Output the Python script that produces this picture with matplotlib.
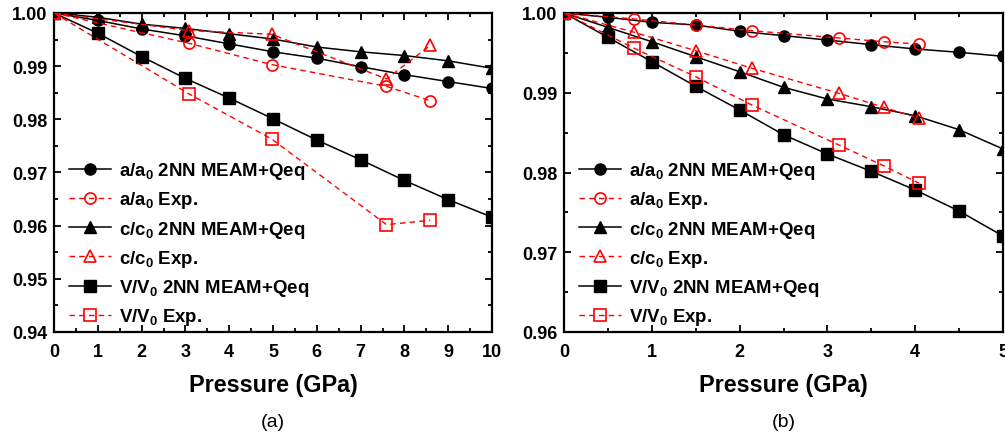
import matplotlib
matplotlib.use("Agg")
import matplotlib.pyplot as plt
from matplotlib.ticker import MultipleLocator, FormatStrFormatter

plt.rcParams['font.family'] = ['Liberation Sans', 'DejaVu Sans']
plt.rcParams['font.weight'] = 'bold'
plt.rcParams['mathtext.fontset'] = 'custom'
plt.rcParams['mathtext.rm'] = 'Liberation Sans:bold'
plt.rcParams['mathtext.default'] = 'rm'

# ---- panel (a) data ----
p_sim_a = [0, 1, 2, 3, 4, 5, 6, 7, 8, 9, 10]
a_sim_a = [1.0, 0.9986, 0.9970, 0.9957, 0.9942, 0.9927, 0.9915, 0.9899, 0.9884, 0.9871, 0.9858]
c_sim_a = [1.0, 0.9992, 0.9979, 0.9971, 0.9961, 0.9951, 0.9936, 0.9927, 0.9920, 0.9910, 0.9896]
v_sim_a = [1.0, 0.9962, 0.9918, 0.9877, 0.9840, 0.9801, 0.9761, 0.9724, 0.9685, 0.9649, 0.9616]

p_exp_a = [0, 3.08, 4.97, 7.59, 8.59]
a_exp_a = [1.0, 0.9943, 0.9903, 0.9862, 0.9835]
c_exp_a = [1.0, 0.9967, 0.9960, 0.9876, 0.9939]
v_exp_a = [1.0, 0.9848, 0.9763, 0.9602, 0.9610]

# ---- panel (b) data ----
p_sim_b = [0, 0.5, 1.0, 1.5, 2.0, 2.5, 3.0, 3.5, 4.0, 4.5, 5.0]
a_sim_b = [1.0, 0.99946, 0.99883, 0.9985, 0.9977, 0.99716, 0.99661, 0.99603, 0.99549, 0.99507, 0.99457]
c_sim_b = [1.0, 0.9982, 0.9964, 0.99452, 0.99264, 0.99068, 0.98922, 0.98825, 0.98712, 0.98537, 0.98295]
v_sim_b = [1.0, 0.99695, 0.9939, 0.99081, 0.98784, 0.98474, 0.98232, 0.98015, 0.97781, 0.97517, 0.97204]

p_exp_b = [0, 0.8, 1.5, 2.14, 3.13, 3.64, 4.04]
a_exp_b = [1.0, 0.99925, 0.9985, 0.99778, 0.99687, 0.9964, 0.99611]
c_exp_b = [1.0, 0.99758, 0.99527, 0.99307, 0.98993, 0.98818, 0.98683]
v_exp_b = [1.0, 0.99557, 0.99201, 0.98846, 0.98345, 0.98085, 0.97868]

labels = [
    "a/a$_0$ 2NN MEAM+Qeq", "a/a$_0$ Exp.",
    "c/c$_0$ 2NN MEAM+Qeq", "c/c$_0$ Exp.",
    "V/V$_0$ 2NN MEAM+Qeq", "V/V$_0$ Exp.",
]
markers = ['o', '^', 's']

fig = plt.figure(figsize=(10.05, 4.35), dpi=100)
ax1 = fig.add_axes([54 / 1005, 1 - 333 / 435, 438 / 1005, 319 / 435])
ax2 = fig.add_axes([564 / 1005, 1 - 333 / 435, 439 / 1005, 319 / 435])

panels = [
    (ax1, p_sim_a, [a_sim_a, c_sim_a, v_sim_a], p_exp_a, [a_exp_a, c_exp_a, v_exp_a],
     (0, 10), (0.94, 1.0), "(a)"),
    (ax2, p_sim_b, [a_sim_b, c_sim_b, v_sim_b], p_exp_b, [a_exp_b, c_exp_b, v_exp_b],
     (0, 5), (0.96, 1.0), "(b)"),
]

for ax, ps, sims, pe, exps, xlim, ylim, tag in panels:
    for i in range(3):
        ax.plot(ps, sims[i], color='black', lw=1.1, marker=markers[i],
                ms=8, mfc='black', mec='black', label=labels[2 * i], zorder=3)
        ax.plot(pe, exps[i], color='#ff0000', lw=1.0, ls=(0, (4, 3)), marker=markers[i],
                ms=8, mfc='none', mec='#ff0000', mew=1.2, label=labels[2 * i + 1],
                zorder=4)
    ax.set_xlim(*xlim)
    ax.set_ylim(*ylim)
    ax.xaxis.set_major_locator(MultipleLocator(1))
    ax.xaxis.set_minor_locator(MultipleLocator(0.5))
    ax.yaxis.set_major_locator(MultipleLocator(0.01))
    ax.yaxis.set_minor_locator(MultipleLocator(0.005))
    ax.yaxis.set_major_formatter(FormatStrFormatter('%.2f'))
    ax.tick_params(which='both', direction='in', top=True, right=True, width=1.3,
                   labelsize=13, pad=5)
    ax.tick_params(axis='x', which='both', pad=8)
    ax.tick_params(which='major', length=5)
    ax.tick_params(which='minor', length=3)
    for s in ax.spines.values():
        s.set_linewidth(1.6)
    ax.set_xlabel("Pressure (GPa)", fontsize=16.8, fontweight='bold', labelpad=9)
    ax.legend(loc='lower left', bbox_to_anchor=(0.035, 0.015), frameon=False,
              fontsize=13.4, handlelength=2.25, handletextpad=0.4, labelspacing=0.44,
              borderpad=0, borderaxespad=0)
    ax.text(0.5, -0.255, tag, transform=ax.transAxes, ha='center', va='top',
            fontsize=14, fontweight='normal')

fig.savefig("out.png", dpi=100)
